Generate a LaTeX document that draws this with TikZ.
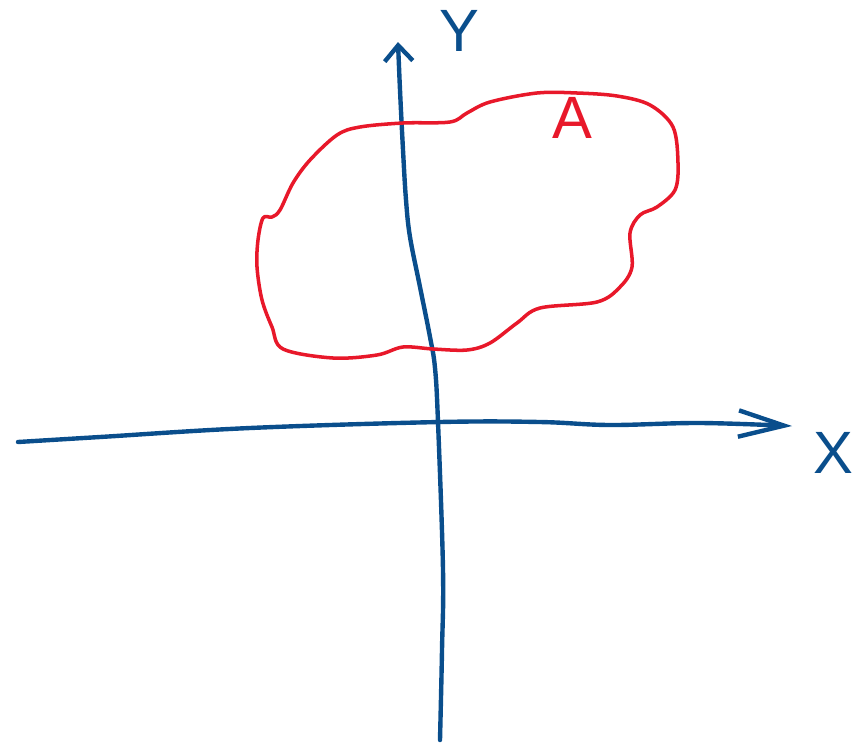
\documentclass[tikz,border=0pt]{standalone}
\usepackage{fontspec}
\setmainfont{Liberation Sans}
\usepackage{xcolor}
\usepackage{tikz}
\usetikzlibrary{arrows.meta, positioning}

\definecolor{penblue}{HTML}{0A4E8C}
\definecolor{penred}{HTML}{E8182A}

\begin{document}
\begin{tikzpicture}[
  x=0.02cm, y=-0.02cm,
  axis/.style={draw=penblue, line width=2.5pt, line cap=round, line join=round},
  region/.style={draw=penred, line width=2pt, line cap=round, line join=round},
  letter/.style={font=\fontsize{34}{34}\selectfont, inner sep=0pt},
]
\useasboundingbox (0,0) rectangle (861,744);

% Axis ends
\coordinate (xstart) at (18,442);
\coordinate (xend) at (792,426);
\coordinate (ystart) at (440,740);
\coordinate (yend) at (398,42);

% Axes
\draw[axis, -{Straight Barb[length=26pt, width=15pt, line width=2.5pt]}]
  plot[smooth, tension=0.6] coordinates {(xstart) (100,437) (250,428) (440,422) (540,422) (610,425) (700,423) (xend)};
\draw[axis, -{Straight Barb[length=9pt, width=16pt, line width=2.5pt]}]
  plot[smooth, tension=0.6] coordinates {(ystart) (442,650) (443,570) (438,422) (435,368) (430,337) (420,287) (410,237) (406,200) (403,150) (400,90) (yend)};

% Region A
\draw[region] plot[smooth cycle, tension=0.55] coordinates {
  (283,349) (333,358) (377,355) (403,347) (433,349) (467,350) (490,343)
  (517,323) (540,308) (597,302) (620,287) (632,267) (630,233) (640,215)
  (657,207) (675,190) (678,163) (673,127) (650,105) (617,96) (577,93)
  (537,93) (490,102) (467,113) (450,122) (403,123) (360,127) (337,135)
  (310,160) (293,183) (280,210) (272,217) (263,218) (258,240) (257,267)
  (262,300) (272,327)};

% Labels
\node[letter, text=penblue] (ylabel) at (459,31) {Y};
\node[letter, text=penblue] (xlabel) at (833,453) {X};
\node[letter, text=penred] (alabel) at (572,118) {A};

\end{tikzpicture}
\end{document}
